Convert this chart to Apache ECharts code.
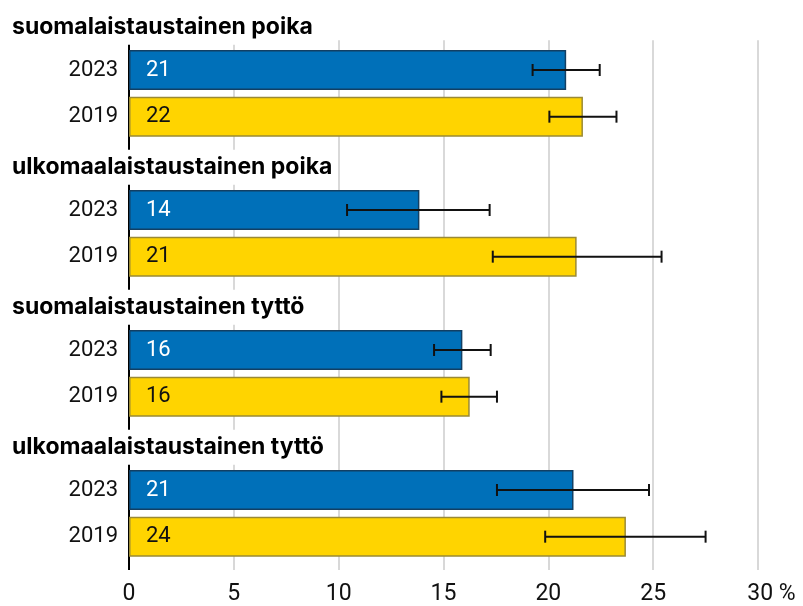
<!DOCTYPE html>
<html>
<head>
<meta charset="utf-8">
<script src="https://cdn.jsdelivr.net/npm/echarts@6/dist/echarts.min.js"></script>
<style>
  html, body { margin: 0; padding: 0; background: #fff; }
  #chart { width: 803px; height: 606px; }
</style>
</head>
<body>
<div id="chart"></div>
<script>
(function() {
  "use strict";

  /* ---- Data ---- */
  const groups = ["suomalaistaustainen poika", "ulkomaalaistaustainen poika", "suomalaistaustainen tyttö", "ulkomaalaistaustainen tyttö"];
  const years = ["2023", "2019"];
  const val2023 = [20.85, 13.85, 15.9, 21.2];
  const val2019 = [21.65, 21.35, 16.25, 23.7];
  const low2023 = [19.25, 10.4, 14.55, 17.55];
  const high2023 = [22.45, 17.2, 17.25, 24.8];
  const low2019 = [20.05, 17.35, 14.9, 19.85];
  const high2019 = [23.25, 25.4, 17.55, 27.5];

  const FONT = "Roboto, 'DejaVu Sans', sans-serif";
  const TITLE_FONT = "Inter, Roboto, sans-serif";
  const BLUE = "#0070b9", BLUE_EDGE = "#123f63";
  const YELLOW = "#ffd400", YELLOW_EDGE = "#9b8a35";
  const GRID = "#cccccc";

  /* ---- Rows: title, 2023, 2019 per group ---- */
  const rows = [];
  const titleData = [], bars23 = [], bars19 = [], errData = [];
  groups.forEach((g, i) => {
    const r = rows.length;
    rows.push("", years[0], years[1]);
    titleData.push([0, r, g]);
    errData.push([r + 1, low2023[i], high2023[i]]);
    errData.push([r + 2, low2019[i], high2019[i]]);
  });
  rows.forEach((_, r) => {
    const gi = Math.floor(r / 3), k = r % 3;
    bars23.push(k === 1 ? val2023[gi] : null);
    bars19.push(k === 2 ? val2019[gi] : null);
  });

  const chart = echarts.init(document.getElementById("chart"), null, { renderer: "canvas" });

  chart.setOption({
    animation: false,
    backgroundColor: "#fff",
    textStyle: { fontFamily: FONT },
    grid: { left: 129, right: 45, top: -3, bottom: 40, containLabel: false },
    xAxis: [{
      type: "value", min: 0, max: 30, interval: 5,
      axisLine: { show: false },
      axisTick: { show: true, length: 10, lineStyle: { color: GRID, width: 1.5 } },
      splitLine: { show: true, lineStyle: { color: GRID, width: 1.5 } },
      axisLabel: {
        margin: 23, fontSize: 23, color: "#111", fontFamily: FONT,
        formatter: v => v === 30 ? "{pad| }30 %" : String(v),
        rich: { pad: { width: 27, fontSize: 23 } }
      }
    }, {
      type: "value", min: 0, max: 30, interval: 5, position: "bottom",
      axisLine: { show: false },
      axisLabel: { show: false },
      splitLine: { show: false },
      axisTick: { show: true, length: 10, customValues: [0], lineStyle: { color: "#000", width: 2 } }
    }],
    yAxis: {
      type: "category", inverse: true, data: rows,
      axisLine: { show: true, lineStyle: { color: "#000", width: 2 } },
      axisTick: { show: false },
      splitLine: { show: false },
      axisLabel: { margin: 11, fontSize: 22, color: "#111", fontFamily: FONT, interval: 0 }
    },
    series: [
      {
        name: "2023", type: "bar", data: bars23, barWidth: 40, barGap: "-100%",
        itemStyle: { color: BLUE, borderColor: BLUE_EDGE, borderWidth: 1.5 },
        label: { show: true, position: "insideLeft", distance: 17, fontSize: 22, color: "#fff",
          fontFamily: FONT, formatter: p => Math.round(p.value) }
      },
      {
        name: "2019", type: "bar", data: bars19, barWidth: 40, barGap: "-100%",
        itemStyle: { color: YELLOW, borderColor: YELLOW_EDGE, borderWidth: 1.5 },
        label: { show: true, position: "insideLeft", distance: 17, fontSize: 22, color: "#111",
          fontFamily: FONT, formatter: p => Math.round(p.value) }
      },
      {
        name: "err", type: "custom", z: 4,
        data: errData,
        encode: { y: 0, x: [1, 2] },
        renderItem: (params, api) => {
          const row = api.value(0);
          const p0 = api.coord([api.value(1), row]);
          const p1 = api.coord([api.value(2), row]);
          const h = 6;
          const st = { stroke: "#111", lineWidth: 2 };
          return {
            type: "group",
            children: [
              { type: "line", shape: { x1: p0[0], y1: p0[1], x2: p1[0], y2: p1[1] }, style: st },
              { type: "line", shape: { x1: p0[0], y1: p0[1] - h, x2: p0[0], y2: p0[1] + h }, style: st },
              { type: "line", shape: { x1: p1[0], y1: p1[1] - h, x2: p1[0], y2: p1[1] + h }, style: st }
            ]
          };
        }
      },
      {
        name: "titles", type: "custom", z: 6,
        data: titleData,
        encode: { x: 0, y: 1 },
        renderItem: (params, api) => {
          const p = api.coord([api.value(0), api.value(1)]);
          const name = titleData[params.dataIndex][2];
          const children = [];
          if (params.dataIndex === 0) {
            // no grid lines above the first group
            children.push({ type: "rect", shape: { x: 0, y: 0, width: p[0] + params.coordSys.width + 5, height: p[1] + 17 },
              style: { fill: "#fff" } });
          }
          children.push({
            type: "text", x: 12, y: p[1] + 4,
            style: {
              text: name, fontFamily: TITLE_FONT, fontSize: 23, fontWeight: "bold", fill: "#000",
              verticalAlign: "middle", align: "left",
              backgroundColor: "#fff", padding: [6, 4, 6, 0]
            }
          });
          return { type: "group", children };
        }
      }
    ]
  });
})();
</script>
</body>
</html>
